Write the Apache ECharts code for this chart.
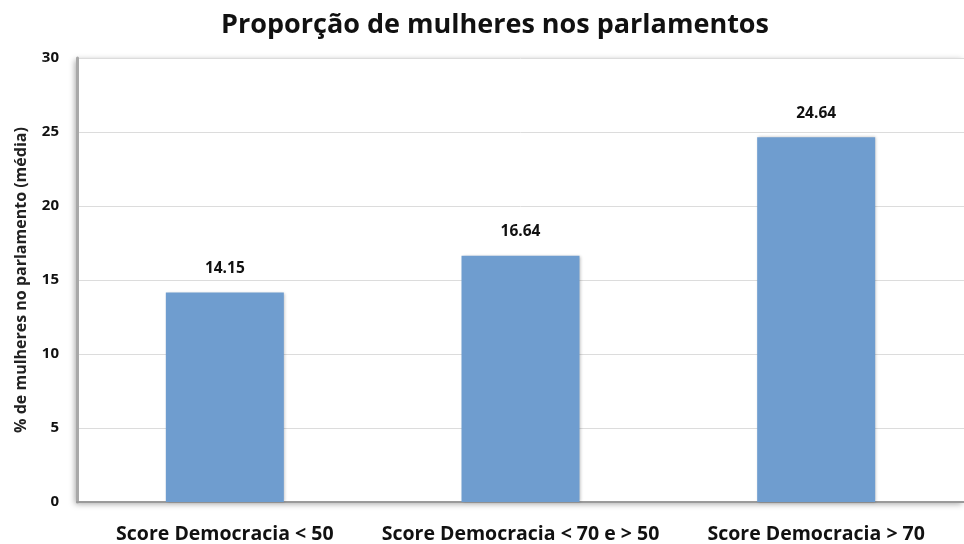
<!DOCTYPE html>
<html><head><meta charset="utf-8">
<script src="https://cdn.jsdelivr.net/npm/echarts@6/dist/echarts.min.js"></script>
<style>html,body{margin:0;padding:0;background:#fff}#c{width:964px;height:544px}</style>
</head><body><div id="c"></div>
<script>
var categories = ['Score Democracia < 50', 'Score Democracia < 70 e > 50', 'Score Democracia > 70'];
var values = [14.15, 16.64, 24.64];
var valueLabels = ['14.15', '16.64', '24.64'];
var yTicks = [0, 5, 10, 15, 20, 25, 30];

var chart = echarts.init(document.getElementById('c'));
var F = 'Open Sans, Liberation Sans, sans-serif';
chart.setOption({
  animation: false,
  title: {
    text: 'Proporção de mulheres nos parlamentos',
    left: 490, top: 7, textAlign: 'center',
    textStyle: {fontFamily: F, fontSize: 27, fontWeight: 'bold', color: '#111'}
  },
  grid: {left: 77, top: 58, width: 891, height: 444, containLabel: false,
    show: true, borderWidth: 0, backgroundColor: '#fff',
    shadowColor: 'rgba(0,0,0,0.35)', shadowBlur: 6, shadowOffsetX: -2, shadowOffsetY: 2},
  xAxis: {
    type: 'category', data: categories,
    axisLine: {show: true, lineStyle: {color: '#9a9a9a', width: 2}},
    axisTick: {show: false},
    axisLabel: {fontFamily: F, fontSize: 19.5, fontWeight: 'bold', color: '#111', margin: 22, interval: 0}
  },
  yAxis: {
    type: 'value', min: 0, max: 30, interval: 5,
    name: '% de mulheres no parlamento (média)',
    nameLocation: 'middle', nameGap: 48, nameRotate: 90,
    nameTextStyle: {fontFamily: F, fontSize: 16, fontWeight: 'bold', color: '#222'},
    axisLine: {show: true, lineStyle: {color: '#a8a8a8', width: 3}},
    axisTick: {show: false},
    splitLine: {lineStyle: {color: '#dcdcdc', width: 1}},
    axisLabel: {fontFamily: F, fontSize: 15, fontWeight: 'bold', color: '#111', margin: 18,
      formatter: function(v){ return yTicks.indexOf(v) >= 0 ? String(v) : ''; }}
  },
  series: [{
    type: 'bar', data: values, barWidth: 118,
    itemStyle: {color: '#6f9dcf', shadowColor: 'rgba(0,0,0,0.25)', shadowBlur: 3, shadowOffsetX: 1},
    label: {show: true, position: 'top', distance: 16, fontFamily: F, fontSize: 15.5, fontWeight: 'bold', color: '#111',
      formatter: function(p){ return valueLabels[p.dataIndex]; }}
  }]
});
</script></body></html>
